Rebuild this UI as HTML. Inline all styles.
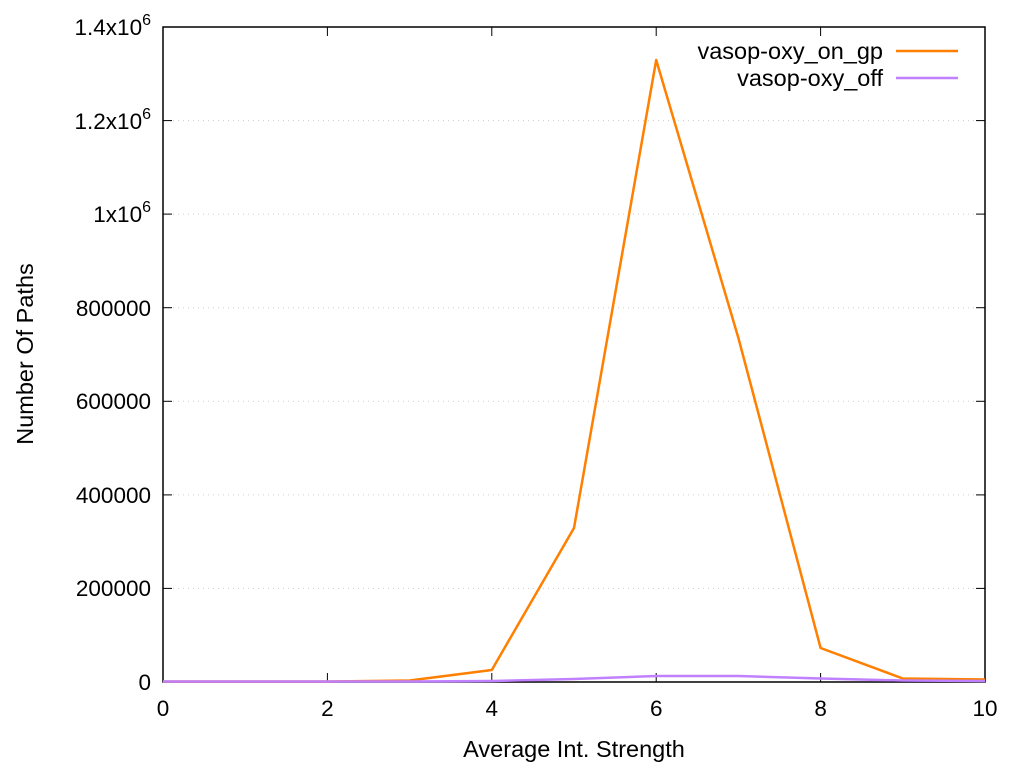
<!DOCTYPE html>
<html><head><meta charset="utf-8"><style>
html,body{margin:0;padding:0;background:#fff;}
svg text{font-family:"Liberation Sans",Arial,sans-serif;font-size:22.5px;fill:#000;}
.big{font-size:23.5px;}
</style></head><body>
<svg width="1024" height="768" viewBox="0 0 1024 768" xmlns="http://www.w3.org/2000/svg">
<rect width="1024" height="768" fill="#fff"/>
<g stroke="#ccc" stroke-width="1" stroke-dasharray="1,4">
<line x1="163" y1="588.4" x2="985" y2="588.4"/>
<line x1="163" y1="494.9" x2="985" y2="494.9"/>
<line x1="163" y1="401.3" x2="985" y2="401.3"/>
<line x1="163" y1="307.7" x2="985" y2="307.7"/>
<line x1="163" y1="214.1" x2="985" y2="214.1"/>
<line x1="163" y1="120.6" x2="985" y2="120.6"/>
</g>
<g stroke="#000" stroke-width="1">
<line x1="163" y1="588.4" x2="172" y2="588.4"/><line x1="985" y1="588.4" x2="976" y2="588.4"/>
<line x1="163" y1="494.9" x2="172" y2="494.9"/><line x1="985" y1="494.9" x2="976" y2="494.9"/>
<line x1="163" y1="401.3" x2="172" y2="401.3"/><line x1="985" y1="401.3" x2="976" y2="401.3"/>
<line x1="163" y1="307.7" x2="172" y2="307.7"/><line x1="985" y1="307.7" x2="976" y2="307.7"/>
<line x1="163" y1="214.1" x2="172" y2="214.1"/><line x1="985" y1="214.1" x2="976" y2="214.1"/>
<line x1="163" y1="120.6" x2="172" y2="120.6"/><line x1="985" y1="120.6" x2="976" y2="120.6"/>
<line x1="327.4" y1="682" x2="327.4" y2="673"/><line x1="327.4" y1="27" x2="327.4" y2="36"/>
<line x1="491.8" y1="682" x2="491.8" y2="673"/><line x1="491.8" y1="27" x2="491.8" y2="36"/>
<line x1="656.2" y1="682" x2="656.2" y2="673"/><line x1="656.2" y1="27" x2="656.2" y2="36"/>
<line x1="820.6" y1="682" x2="820.6" y2="673"/><line x1="820.6" y1="27" x2="820.6" y2="36"/>
</g>
<rect x="163" y="27" width="822" height="655" fill="none" stroke="#000" stroke-width="1.5"/>
<g text-anchor="end">
<text x="151" y="690">0</text>
<text x="151" y="596">200000</text>
<text x="151" y="503">400000</text>
<text x="151" y="409">600000</text>
<text x="151" y="316">800000</text>
<text x="151" y="222">1x10<tspan dy="-10" font-size="16">6</tspan></text>
<text x="151" y="129">1.2x10<tspan dy="-10" font-size="16">6</tspan></text>
<text x="151" y="35">1.4x10<tspan dy="-10" font-size="16">6</tspan></text>
</g>
<g text-anchor="middle">
<text x="163" y="716">0</text>
<text x="327.4" y="716">2</text>
<text x="491.8" y="716">4</text>
<text x="656.2" y="716">6</text>
<text x="820.6" y="716">8</text>
<text x="985" y="716">10</text>
<text class="big" x="574" y="757">Average Int. Strength</text>
<text class="big" transform="translate(33,354) rotate(-90)">Number Of Paths</text>
</g>
<polyline fill="none" stroke="#ff7f00" stroke-width="2.5" stroke-linejoin="round" points="163,681.5 245.2,681.5 327.4,681.5 409.6,680.5 491.8,670 574,528 656.2,60 738.4,338 820.6,648 902.8,678.5 985,679.5"/>
<polyline fill="none" stroke="#c080ff" stroke-width="2.5" stroke-linejoin="round" points="163,681.5 245.2,681.5 327.4,681.5 409.6,681.5 491.8,681 574,679 656.2,676 738.4,676 820.6,678.5 902.8,680.5 985,681"/>
<text class="big" x="883" y="59" text-anchor="end">vasop-oxy_on_gp</text>
<line x1="896" y1="51" x2="958" y2="51" stroke="#ff7f00" stroke-width="2.5"/>
<text class="big" x="883" y="86" text-anchor="end">vasop-oxy_off</text>
<line x1="896" y1="78" x2="958" y2="78" stroke="#c080ff" stroke-width="2.5"/>
</svg>
</body></html>
